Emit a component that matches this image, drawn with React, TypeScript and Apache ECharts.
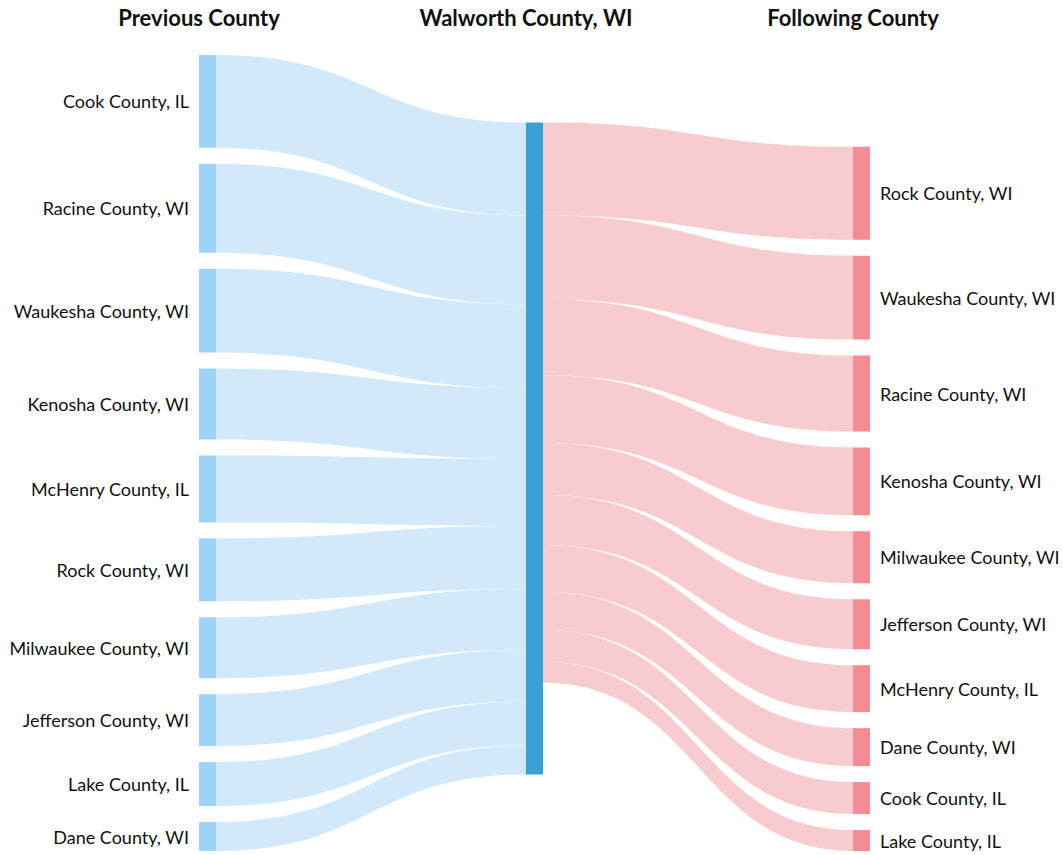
import React, { useEffect, useRef } from "react";
import * as echarts from "echarts";

const centerCounty = "Walworth County, WI";
const columnTitles = ["Previous County", "Walworth County, WI", "Following County"];

const previousCounties = [
  "Cook County, IL",
  "Racine County, WI",
  "Waukesha County, WI",
  "Kenosha County, WI",
  "McHenry County, IL",
  "Rock County, WI",
  "Milwaukee County, WI",
  "Jefferson County, WI",
  "Lake County, IL",
  "Dane County, WI",
];
const previousValues = [93, 89, 84, 71, 67, 63, 61, 52, 44, 29];

const followingCounties = [
  "Rock County, WI",
  "Waukesha County, WI",
  "Racine County, WI",
  "Kenosha County, WI",
  "Milwaukee County, WI",
  "Jefferson County, WI",
  "McHenry County, IL",
  "Dane County, WI",
  "Cook County, IL",
  "Lake County, IL",
];
const followingValues = [93, 84, 76, 68, 52, 50, 47, 38, 32, 21];

const PREV_NODE = "#9ed3f9";
const PREV_LINK = "#d1e9fb";
const CENTER_NODE = "#39a0d3";
const NEXT_NODE = "#f58b93";
const NEXT_LINK = "#f8cccf";
const FONT = "Lato, 'Noto Sans', sans-serif";

export default function App() {
  const ref = useRef<HTMLDivElement>(null);

  useEffect(() => {
    if (!ref.current) return;
    const chart = echarts.init(ref.current, undefined, { renderer: "svg" });

    const prevKey = (n: string) => "prev|" + n;
    const nextKey = (n: string) => "next|" + n;
    const centerKey = "center|" + centerCounty;

    const nodes: any[] = [];
    previousCounties.forEach((n) => {
      nodes.push({
        name: prevKey(n),
        itemStyle: { color: PREV_NODE },
        label: { position: "left" },
      });
    });
    nodes.push({
      name: centerKey,
      itemStyle: { color: CENTER_NODE },
      label: { show: false },
    });
    followingCounties.forEach((n) => {
      nodes.push({
        name: nextKey(n),
        itemStyle: { color: NEXT_NODE },
        label: { position: "right" },
      });
    });

    const links: any[] = [];
    previousCounties.forEach((n, i) => {
      links.push({
        source: prevKey(n),
        target: centerKey,
        value: previousValues[i],
        lineStyle: { color: PREV_LINK, opacity: 1 },
      });
    });
    followingCounties.forEach((n, i) => {
      links.push({
        source: centerKey,
        target: nextKey(n),
        value: followingValues[i],
        lineStyle: { color: NEXT_LINK, opacity: 1 },
      });
    });

    const titleXs = [199, 526, 853];
    chart.setOption({
      animation: false,
      backgroundColor: "#ffffff",
      graphic: columnTitles.map((t, i) => ({
        type: "text",
        x: titleXs[i],
        y: 17,
        style: {
          text: t,
          font: `bold 22px ${FONT}`,
          fill: "#111",
          textAlign: "center",
          textVerticalAlign: "middle",
        },
      })),
      series: [
        {
          type: "sankey",
          left: 199,
          right: 193,
          top: 55,
          bottom: 4,
          nodeWidth: 17,
          nodeGap: 16,
          layoutIterations: 32,
          draggable: false,
          emphasis: { disabled: true },
          itemStyle: { borderWidth: 0 },
          lineStyle: { curveness: 0.5 },
          label: {
            color: "#111",
            fontFamily: FONT,
            fontSize: 18,
            distance: 10,
            formatter: (p: any) => String(p.name).split("|")[1],
          },
          data: nodes,
          links: links,
        },
      ],
    });

    return () => chart.dispose();
  }, []);

  return (
    <div
      ref={ref}
      style={{ position: "fixed", left: 0, top: 0, width: 1063, height: 855 }}
    />
  );
}
